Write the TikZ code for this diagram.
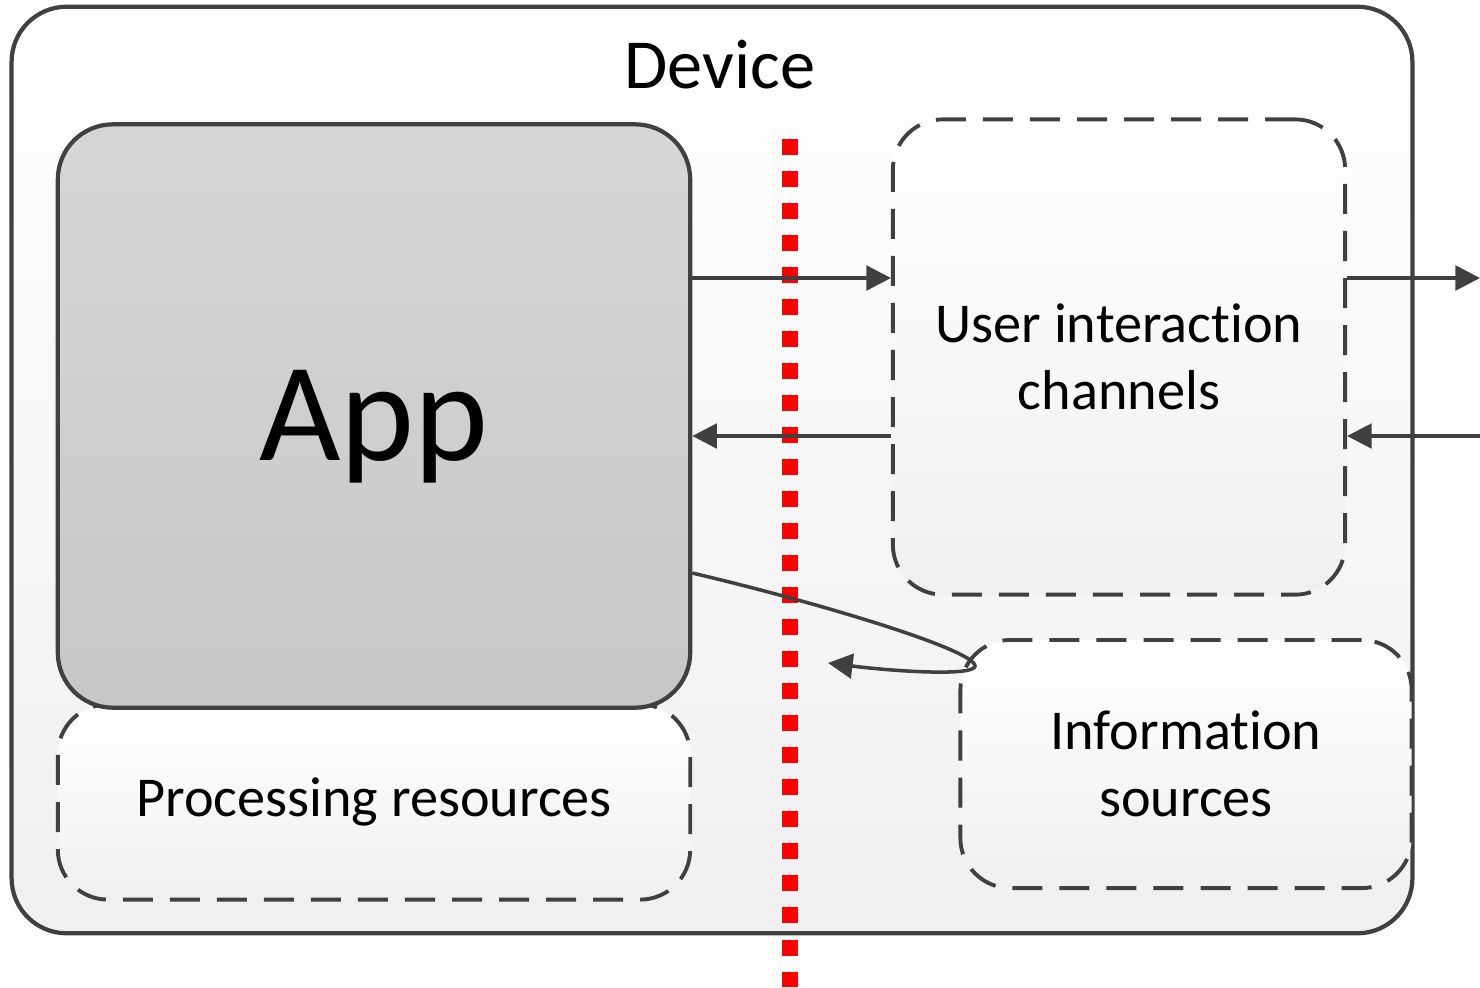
\documentclass[tikz,border=0pt]{standalone}
\usepackage{fontspec}
\setmainfont{Carlito}[Ligatures=NoCommon]
\usetikzlibrary{arrows.meta}

\definecolor{edgegray}{HTML}{404040}
\newcommand{\nolig}{\kern0pt}
\tikzset{
  panel/.style={draw=edgegray, line width=1.2pt, rounded corners=0.55cm,
    top color=white, bottom color=black!6},
  appbox/.style={draw=edgegray, line width=1.2pt, rounded corners=0.55cm,
    top color=black!16, bottom color=black!22},
  group/.style={draw=edgegray, line width=1.1pt, rounded corners=0.5cm,
    dash pattern=on 0.3cm off 0.17cm, top color=white, bottom color=black!6,
    align=center, font=\fontsize{16}{19}\selectfont},
  conn/.style={draw=edgegray, line width=1pt,
    -{Triangle[length=7pt, width=7pt]}},
  border/.style={red, line width=0.16cm, dash pattern=on 0.16cm off 0.16cm}
}

\begin{document}
\begin{tikzpicture}[x=0.01cm, y=-0.01cm]
  \useasboundingbox (0,0) rectangle (1480,987);

  % outer device box
  \node[panel, minimum width=14cm, minimum height=9.26cm] (device) at (712,470) {};
  \node[font=\fontsize{20}{24}\selectfont] (devlabel) at (720,65) {Device};

  % inner groups
  \node[group, minimum width=6.32cm, minimum height=1.95cm] (proc) at (374,802) {Processing resources};
  \node[group, minimum width=4.52cm, minimum height=4.75cm] (uic) at (1119,357) {User interact\nolig ion\\channels};
  \node[group, minimum width=4.51cm, minimum height=2.48cm] (info) at (1186,764) {Informat\nolig ion\\sources};
  \node[appbox, minimum width=6.32cm, minimum height=5.83cm] (app) at (374,416) {};
  \node[font=\fontsize{40}{48}\selectfont] (applabel) at (374,427) {App};

  % trust boundary
  \draw[border] (790,139) -- (790,987);

  % connectors
  \coordinate (lvlA) at (0,278);
  \coordinate (lvlB) at (0,436);
  \coordinate (lvlC) at (0,573);
  \coordinate (extA) at (1480,278);
  \coordinate (extB) at (1480,436);
  \coordinate (hook) at (975,666);
  \coordinate (tip) at (828,663);

  \draw[conn] (app.east |- lvlA) -- (uic.west |- lvlA);
  \draw[conn] (uic.west |- lvlB) -- (app.east |- lvlB);
  \draw[conn] (uic.east |- lvlA) -- (extA);
  \draw[conn] (extB) -- (uic.east |- lvlB);
  \draw[conn] (app.east |- lvlC) .. controls (820,603) and (975,650) .. (hook)
    .. controls (975,676) and (900,672) .. (tip);
\end{tikzpicture}
\end{document}
